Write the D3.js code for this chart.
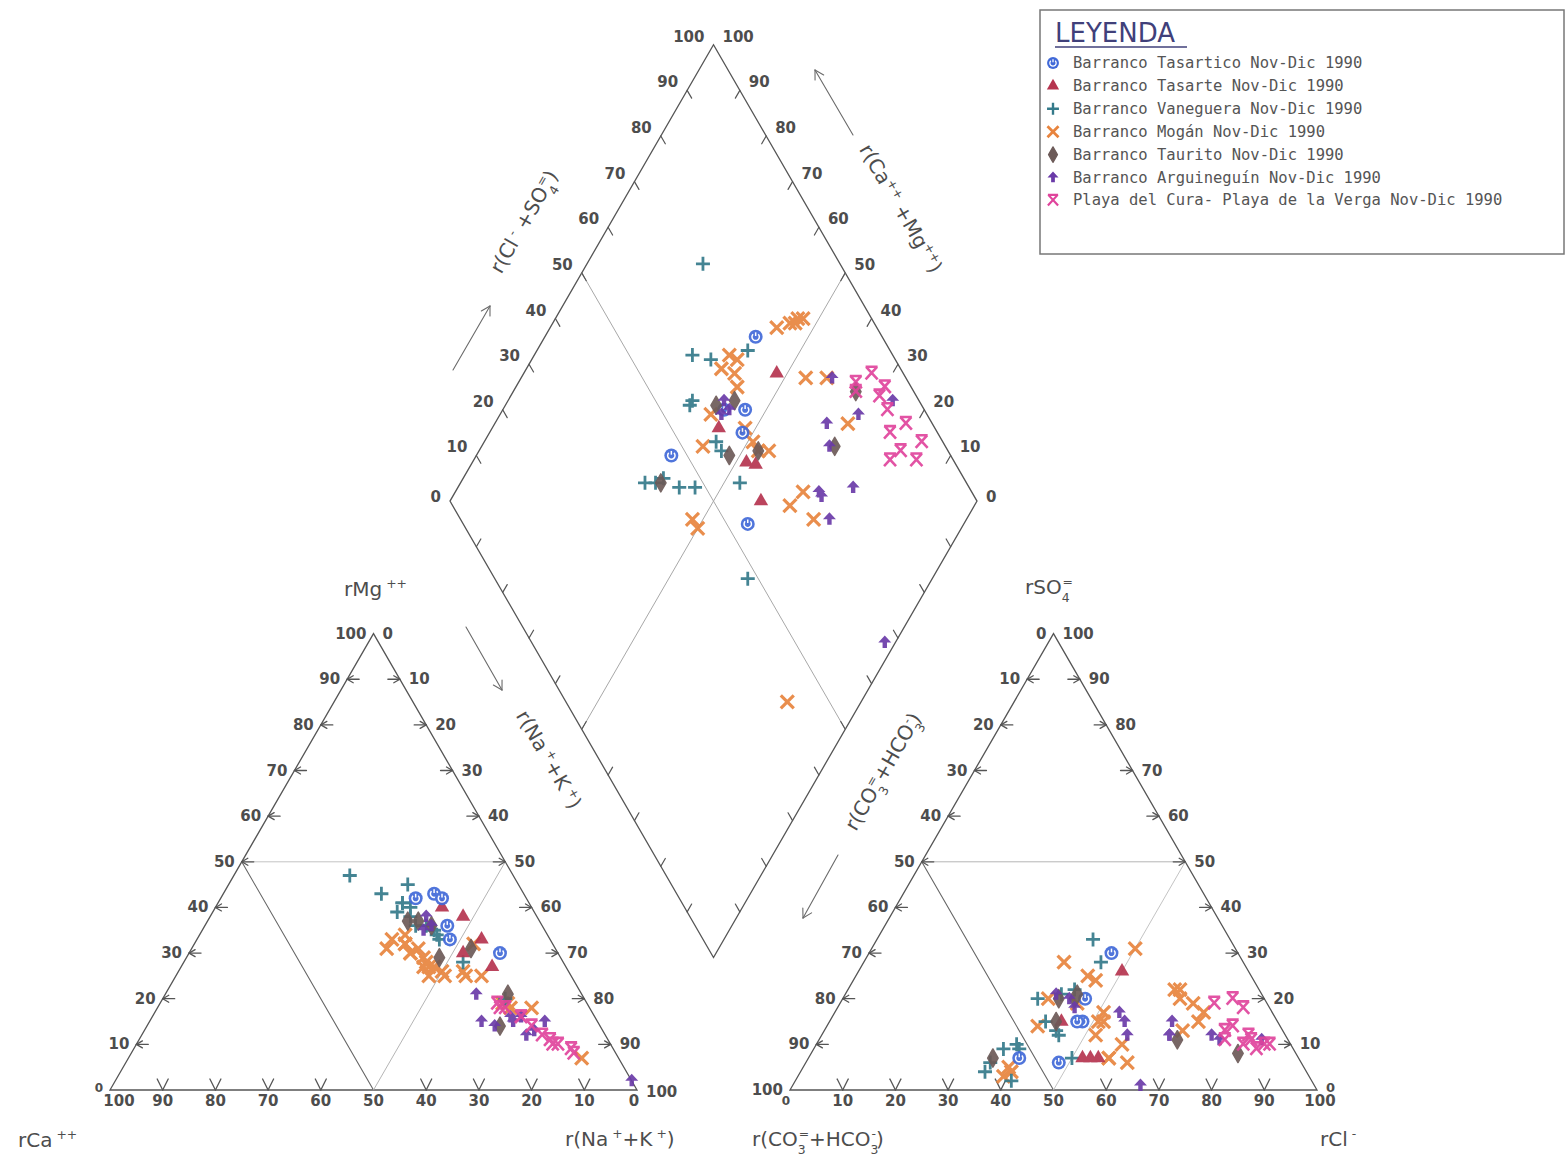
<!DOCTYPE html>
<html>
<head>
<meta charset="utf-8">
<script src="https://cdn.jsdelivr.net/npm/d3@7"></script>
<style>
  html, body { margin: 0; padding: 0; background: #ffffff; }
  svg { display: block; }
</style>
</head>
<body>
<svg id="piper" width="1566" height="1164"></svg>
<script>
// ---------------------------------------------------------------------------
// Piper diagram – aguas del SW de Gran Canaria, Nov-Dic 1990
// Each sample: [Mg, Na+K, SO4, Cl] in % of meq/l
// (Ca = 100 - Mg - (Na+K);  CO3+HCO3 = 100 - SO4 - Cl)
// ---------------------------------------------------------------------------
const seriesNames = [
  "Barranco Tasartico Nov-Dic 1990",
  "Barranco Tasarte Nov-Dic 1990",
  "Barranco Vaneguera Nov-Dic 1990",
  "Barranco Mogán Nov-Dic 1990",
  "Barranco Taurito Nov-Dic 1990",
  "Barranco Arguineguín Nov-Dic 1990",
  "Playa del Cura- Playa de la Verga Nov-Dic 1990"
];
const seriesKeys = ["tasartico", "tasarte", "vaneguera", "mogan", "taurito", "arguineguin", "playa"];
const seriesColors = ["#4169d8", "#b5344f", "#347a8a", "#e8843e", "#6c5a58", "#6a3aa8", "#e0449c"];

const tasarticoSamples = [
  [43, 40, 30, 46], [36, 46, 20, 46], [33, 48, 15, 48],
  [42, 37, 7, 40], [30, 59, 6, 48], [42, 42, 15, 47]
];
const tasarteSamples = [
  [38, 48, 26, 50], [40, 43, 15, 44], [33, 54, 7, 55],
  [27, 59, 7, 52], [30, 52, 7, 53.5]
];
const vanegueraSamples = [
  [47, 22, 33, 41], [36, 40, 28, 45], [43, 30, 21, 41], [45, 34, 22, 43],
  [41, 35, 20, 37], [39, 35, 15, 41], [35, 44, 12, 45], [33, 46, 7, 50],
  [28, 53, 13, 44], [41, 35, 4, 35], [40, 37, 6, 35], [38, 38, 2, 41],
  [36, 42, 9, 36], [34, 45, 9, 39], [20, 65, 10, 38]
];
const moganSamples = [
  [28, 46, 22, 63], [31, 43, 31, 50], [27, 47, 17, 70], [29, 45, 22, 62],
  [27, 46, 19, 67], [33, 37, 25, 44], [34, 39, 24, 46], [32, 40, 17, 51],
  [31, 37, 28, 38], [30, 42, 15, 52], [32, 40, 20, 39], [30, 42, 14, 40],
  [25, 48, 19, 45], [25, 51, 7, 57], [25, 55, 15, 51], [32, 53, 12, 52],
  [27, 48, 4, 40], [26, 50, 5, 39], [26, 54, 13, 68], [25, 58, 15, 70],
  [18, 67, 20, 64], [19, 65, 7, 57], [19, 66, 10, 58], [18, 71, 6, 61],
  [7, 86, 3, 39]
];
const tauritoSamples = [
  [37, 40, 20, 41], [36, 43, 21, 44], [29, 48, 15, 43], [37, 38, 7, 35],
  [21, 65, 8, 81], [14, 67, 11, 68], [31, 53, 20, 44]
];
const arguineguinSamples = [
  [21, 59, 12, 74], [16, 68, 11, 76], [15, 63, 15, 65], [14, 66, 12, 66],
  [12, 73, 11, 84], [15, 69, 17, 54], [16, 70, 15, 56], [15, 75, 12, 66],
  [13, 74, 12, 58], [2, 98, 1, 66], [38, 41, 20, 43], [36, 43, 18, 45],
  [35, 42, 21, 40]
];
const playaSamples = [
  [19, 64, 19, 71], [18, 66, 20, 74], [16, 70, 18, 77], [18, 65, 13, 76],
  [16, 70, 12, 81], [14, 73, 11, 82], [11, 78, 10, 85], [12, 76, 14, 77],
  [10, 80, 10, 81], [10, 79, 11, 77], [8, 84, 9, 84], [9, 83, 10, 86]
];

// drawing order (first drawn lies underneath)
const drawOrder = ["mogan", "vaneguera", "tasarte", "tasartico", "taurito", "arguineguin", "playa"];
const samplesByKey = {
  tasartico: tasarticoSamples, tasarte: tasarteSamples, vaneguera: vanegueraSamples,
  mogan: moganSamples, taurito: tauritoSamples, arguineguin: arguineguinSamples,
  playa: playaSamples
};

const tickValues = d3.range(0, 101, 10);

// ---------------------------------------------------------------------------
// Geometry
// ---------------------------------------------------------------------------
const S = 527;                       // side of each triangle / diamond
const H = S * Math.sqrt(3) / 2;
const BASE = 1090;                   // baseline of the two triangles
const XL = 110;                      // left corner of the cation triangle
const GAP = 153;                     // gap between triangles
const XR = XL + S + GAP;             // left corner of the anion triangle
const XB = XL + S + GAP / 2;         // lower vertex of the diamond
const YB = BASE - (GAP / 2) * Math.sqrt(3);

const xCat = d3.scaleLinear().domain([0, 100]).range([XL, XL + S]);
const xAn = d3.scaleLinear().domain([0, 100]).range([XR, XR + S]);
const yTri = d3.scaleLinear().domain([0, 100]).range([BASE, BASE - H]);
const xDia = d3.scaleLinear().domain([-100, 100]).range([XB - S / 2, XB + S / 2]);
const yDia = d3.scaleLinear().domain([0, 200]).range([YB, YB - 2 * H]);

const cationXY = (mg, nak) => [xCat(nak + mg / 2), yTri(mg)];
const anionXY = (so4, cl) => [xAn(cl + so4 / 2), yTri(so4)];
const diamondXY = (camg, clso4) => [xDia(clso4 - camg), yDia(clso4 + camg)];

const svg = d3.select("#piper");
const INK = "#4d4d4d";
const LINE = "#555";
const NUM_FONT = "'DejaVu Sans', sans-serif";

const gFrame = svg.append("g");
const gTicks = svg.append("g");
const gLabels = svg.append("g");
const gPts = svg.append("g");

const line = d3.line();

function poly(pts, color, width) {
  gFrame.append("path").attr("d", line(pts) + "Z")
    .attr("fill", "none").attr("stroke", color).attr("stroke-width", width)
    .attr("stroke-linejoin", "miter");
}
function seg(g, a, b, color, width) {
  g.append("line").attr("x1", a[0]).attr("y1", a[1]).attr("x2", b[0]).attr("y2", b[1])
    .attr("stroke", color).attr("stroke-width", width).attr("stroke-linecap", "round");
}
function num(x, y, t, anchor, size) {
  gLabels.append("text").attr("x", x).attr("y", y).text(t)
    .attr("text-anchor", anchor).attr("dominant-baseline", "central")
    .attr("font-family", NUM_FONT).attr("font-weight", "bold")
    .attr("font-size", size || 15).attr("fill", INK);
}
// arrow-shaped tick: shaft ending at `tip`, head at the tip
function arrowTick(tip, dirx, diry) {
  const L = 12, a = 7;
  const from = [tip[0] - dirx * L, tip[1] - diry * L];
  seg(gTicks, from, tip, LINE, 1.3);
  const ang = Math.atan2(diry, dirx);
  [Math.PI * 5 / 6, -Math.PI * 5 / 6].forEach(d => {
    seg(gTicks, tip, [tip[0] + a * Math.cos(ang + d), tip[1] + a * Math.sin(ang + d)], LINE, 1.3);
  });
}
function vTick(p) {
  seg(gTicks, p, [p[0] - 5.5, p[1] - 11], LINE, 1.3);
  seg(gTicks, p, [p[0] + 5.5, p[1] - 11], LINE, 1.3);
}

// ---------------------------------------------------------------------------
// Cation triangle (left)
// ---------------------------------------------------------------------------
poly([cationXY(0, 0), cationXY(0, 100), cationXY(100, 0)], LINE, 1.3);
seg(gFrame, cationXY(50, 0), cationXY(0, 50), "#666", 1.1);
seg(gFrame, cationXY(0, 50), cationXY(50, 50), "#b5b5b5", 1);
seg(gFrame, cationXY(50, 50), cationXY(50, 0), "#c4c4c4", 1);

tickValues.forEach(p => {
  // Mg on the left edge
  const l = cationXY(p, 0);
  if (p > 0 && p < 100) arrowTick(l, -1, 0);
  num(l[0] - 7, l[1] - (p === 0 ? 2 : 0), p, "end", p === 0 ? 12 : 15);
  // Na+K on the right edge
  const r = cationXY(100 - p, p);
  if (p > 0 && p < 100) arrowTick(r, 1, 0);
  num(r[0] + 9, r[1] + (p === 100 ? 2 : 0), p, "start");
  // Ca on the base
  const b = cationXY(0, 100 - p);
  if (p > 0 && p < 100 && p !== 50) vTick(b);
  const bx = p === 100 ? b[0] + 9 : (p === 0 ? b[0] - 3 : b[0]);
  num(bx, BASE + 11, p, "middle");
});

// ---------------------------------------------------------------------------
// Anion triangle (right)
// ---------------------------------------------------------------------------
poly([anionXY(0, 0), anionXY(0, 100), anionXY(100, 0)], LINE, 1.3);
seg(gFrame, anionXY(50, 0), anionXY(0, 50), "#666", 1.1);
seg(gFrame, anionXY(50, 0), anionXY(50, 50), "#b5b5b5", 1);
seg(gFrame, anionXY(50, 50), anionXY(0, 50), "#c4c4c4", 1);

tickValues.forEach(p => {
  // CO3+HCO3 on the left edge (0 at the apex)
  const l = anionXY(100 - p, 0);
  if (p > 0 && p < 100) arrowTick(l, -1, 0);
  num(l[0] - 7, l[1], p, "end");
  // SO4 on the right edge
  const r = anionXY(p, 100 - p);
  if (p > 0 && p < 100) arrowTick(r, 1, 0);
  num(r[0] + 9, r[1] - (p === 0 ? 3 : 0), p, "start", p === 0 ? 13 : 15);
  // Cl on the base
  const b = anionXY(0, p);
  if (p > 0 && p < 100 && p !== 50) vTick(b);
  const bx = p === 0 ? b[0] - 4 : (p === 100 ? b[0] + 3 : b[0]);
  num(bx, BASE + 11, p, "middle", p === 0 ? 12 : 15);
});

// ---------------------------------------------------------------------------
// Central diamond
// ---------------------------------------------------------------------------
poly([diamondXY(0, 0), diamondXY(100, 0), diamondXY(100, 100), diamondXY(0, 100)], LINE, 1.3);
seg(gFrame, diamondXY(100, 50), diamondXY(0, 50), "#a8a8a8", 1);
seg(gFrame, diamondXY(50, 0), diamondXY(50, 100), "#a8a8a8", 1);

const TK = 9;
tickValues.forEach(p => {
  const ul = diamondXY(100, p);   // Cl+SO4 on upper-left edge
  const ur = diamondXY(p, 100);   // Ca+Mg on upper-right edge
  const ll = diamondXY(p, 0);     // lower-left edge
  const lr = diamondXY(0, p);     // lower-right edge
  if (p > 0 && p < 100) {
    seg(gTicks, ul, [ul[0] + TK * 0.5, ul[1] + TK * 0.866], LINE, 1.2);
    seg(gTicks, ur, [ur[0] - TK * 0.5, ur[1] + TK * 0.866], LINE, 1.2);
    seg(gTicks, ll, [ll[0] + TK * 0.5, ll[1] - TK * 0.866], LINE, 1.2);
    seg(gTicks, lr, [lr[0] - TK * 0.5, lr[1] - TK * 0.866], LINE, 1.2);
  }
  if (p === 0) {
    num(ul[0] - 9, ul[1] - 4, p, "end");
    num(ur[0] + 9, ur[1] - 4, p, "start");
  } else {
    num(ul[0] - 9, ul[1] - 8, p, "end");
    num(ur[0] + 9, ur[1] - 8, p, "start");
  }
});

// ---------------------------------------------------------------------------
// Axis titles (with ionic charges as super/subscripts)
// ---------------------------------------------------------------------------
const TITLE_FONT = "'DejaVu Sans', sans-serif";
function rich(x, y, parts, opts) {
  const o = Object.assign({ size: 20, anchor: "start", rotate: 0 }, opts || {});
  const t = gLabels.append("text")
    .attr("transform", `translate(${x},${y}) rotate(${o.rotate})`)
    .attr("text-anchor", o.anchor)
    .attr("font-family", TITLE_FONT).attr("fill", INK);
  let cur = 0;
  parts.forEach(([txt, lvl, dx]) => {
    const shift = -(lvl - cur) * o.size * 0.38;
    t.append("tspan").text(txt)
      .attr("dy", shift).attr("dx", dx || 0)
      .attr("font-size", lvl === 0 ? o.size : o.size * 0.62);
    cur = lvl;
  });
  return t;
}
const labMg = [["rMg", 0], [" ++", 1]];
const labCa = [["rCa", 0], [" ++", 1]];
const labNaK = [["r(Na", 0], [" +", 1], ["+K", 0], [" +", 1], [")", 0]];
const labCO3 = [["r(CO", 0], ["3", -1], ["=", 1, -7], ["+HCO", 0], ["3", -1], ["-", 1, -7], [")", 0]];
const labCl = [["rCl", 0], [" -", 1]];
const labSO4 = [["rSO", 0], ["4", -1], ["=", 1, -7]];
const labClSO4 = [["r(Cl", 0], [" -", 1], [" +SO", 0], ["4", -1], ["=", 1, -7], [")", 0]];
const labCaMg = [["r(Ca", 0], ["++", 1], [" +Mg", 0], ["++", 1], [")", 0]];

rich(344, 596, labMg);
rich(18, 1147, labCa);
rich(565, 1146, labNaK);
rich(752, 1146, labCO3);
rich(1320, 1146, labCl);
rich(1025, 594, labSO4);
rich(530, 225, labClSO4, { anchor: "middle", rotate: -60 });
rich(895, 212, labCaMg, { anchor: "middle", rotate: 60 });
rich(543, 763, labNaK, { anchor: "middle", rotate: 60 });
rich(889, 775, labCO3, { anchor: "middle", rotate: -60 });

function arrow(x1, y1, x2, y2) {
  seg(gLabels, [x1, y1], [x2, y2], "#6a6a6a", 1.1);
  const ang = Math.atan2(y2 - y1, x2 - x1);
  [Math.PI * 5 / 6, -Math.PI * 5 / 6].forEach(d => {
    seg(gLabels, [x2, y2], [x2 + 10 * Math.cos(ang + d), y2 + 10 * Math.sin(ang + d)], "#6a6a6a", 1.1);
  });
}
arrow(453, 370, 490, 306);
arrow(853, 135, 815, 70);
arrow(466, 627, 502, 690);
arrow(838, 855, 803, 918);

// ---------------------------------------------------------------------------
// Markers
// ---------------------------------------------------------------------------
function marker(g, key, color) {
  switch (key) {
    case "tasartico":
      g.append("circle").attr("r", 7).attr("fill", color);
      g.append("path").attr("d", "M-2.6,-2.6 A3.7,3.7 0 1,0 2.6,-2.6")
        .attr("fill", "none").attr("stroke", "#fff").attr("stroke-width", 1.5);
      g.append("path").attr("d", "M0,-4.5 V-0.8")
        .attr("stroke", "#fff").attr("stroke-width", 1.5);
      break;
    case "tasarte":
      g.append("path").attr("d", d3.symbol(d3.symbolTriangle, 90)()).attr("fill", color);
      break;
    case "vaneguera":
      g.append("path").attr("d", "M-7,0H7M0,-7V7")
        .attr("stroke", color).attr("stroke-width", 2.8).attr("fill", "none");
      break;
    case "mogan":
      g.append("path").attr("d", "M-6.5,-6.5L6.5,6.5M6.5,-6.5L-6.5,6.5")
        .attr("stroke", color).attr("stroke-width", 3.2).attr("fill", "none");
      break;
    case "taurito":
      g.append("path").attr("d", d3.symbol(d3.symbolDiamond, 95)()).attr("fill", color)
        .attr("stroke", color).attr("stroke-width", 1.5).attr("stroke-linejoin", "round");
      break;
    case "arguineguin":
      g.append("path").attr("d", "M0,-7L6.5,0H2.2V5.5H-2.2V0H-6.5Z").attr("fill", color);
      break;
    case "playa":
      g.append("path").attr("d", "M-6,-6.5H6M-5.5,-6.5L6,6M5.5,-6.5L-6,6")
        .attr("stroke", color).attr("stroke-width", 2.6).attr("fill", "none")
        .attr("stroke-linejoin", "round");
      break;
  }
}

drawOrder.forEach(key => {
  const i = seriesKeys.indexOf(key);
  const color = seriesColors[i];
  const data = samplesByKey[key];
  const grp = gPts.append("g").attr("class", "serie-" + key).attr("opacity", 0.92);
  data.forEach(([mg, nak, so4, cl]) => {
    const pts = [
      cationXY(mg, nak),
      anionXY(so4, cl),
      diamondXY(100 - nak, so4 + cl)
    ];
    pts.forEach(p => {
      marker(grp.append("g").attr("transform", `translate(${p[0]},${p[1]})`), key, color);
    });
  });
});

// ---------------------------------------------------------------------------
// Legend
// ---------------------------------------------------------------------------
const gLeg = svg.append("g");
gLeg.append("rect").attr("x", 1040).attr("y", 10).attr("width", 524).attr("height", 244)
  .attr("fill", "#fff").attr("stroke", "#777").attr("stroke-width", 1.5);
gLeg.append("text").attr("x", 1055).attr("y", 42).text("LEYENDA")
  .attr("font-family", "'DejaVu Sans', sans-serif").attr("font-size", 26)
  .attr("fill", "#40407a");
gLeg.append("line").attr("x1", 1055).attr("x2", 1187).attr("y1", 47).attr("y2", 47)
  .attr("stroke", "#40407a").attr("stroke-width", 1.5);

seriesNames.forEach((name, i) => {
  const y = 63 + i * 22.9;
  marker(gLeg.append("g").attr("transform", `translate(1053,${y}) scale(0.85)`), seriesKeys[i], seriesColors[i]);
  gLeg.append("text").attr("x", 1073).attr("y", y).text(name)
    .attr("dominant-baseline", "central")
    .attr("font-family", "'DejaVu Sans Mono', monospace").attr("font-size", 15.5)
    .attr("fill", "#555");
});
</script>
</body>
</html>
